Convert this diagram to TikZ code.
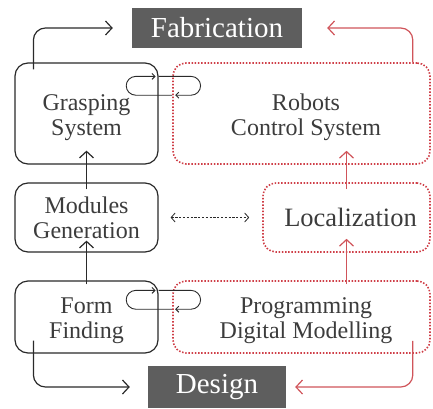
\documentclass[tikz,border=0pt]{standalone}
\usepackage{fontspec}
\setmainfont{Liberation Serif}
\usepackage{xcolor}
\usepackage{tikz}
\usetikzlibrary{arrows.meta}

\definecolor{txtgray}{HTML}{3C3C3C}
\definecolor{linegray}{HTML}{2A2A2A}
\definecolor{boxred}{HTML}{CF3F48}
\definecolor{arrred}{HTML}{D0545A}
\definecolor{tabgray}{HTML}{5E5E5E}

\begin{document}
\begin{tikzpicture}[x=1pt, y=1pt,
    blackbox/.style={draw=linegray, line width=1.2pt, rounded corners=13pt, minimum width=143pt,
        align=center, text=txtgray, inner sep=0pt, font=\fontsize{24}{25}\selectfont},
    redbox/.style={draw=boxred, line width=1.6pt, dash pattern=on 1.5pt off 1.7pt, rounded corners=13pt,
        align=center, text=txtgray, inner sep=0pt, font=\fontsize{24}{25}\selectfont},
    tab/.style={fill=tabgray, text=white, inner sep=0pt, font=\fontsize{29}{30}\selectfont},
    flow/.style={-{Straight Barb[length=6.5pt,width=14pt]}, line width=1.2pt, draw=linegray},
    redflow/.style={flow, draw=arrred},
    swapflow/.style={-{Straight Barb[length=3pt,width=6pt]}, line width=0.9pt, draw=linegray, rounded corners=9.5pt}]
    \useasboundingbox (0,0) rectangle (433,408);

    % Define nodes
    \node[tab, minimum width=170pt, minimum height=40pt] (fab) at (217,380) {Fabrication};
    \node[blackbox, minimum height=101pt] (grasp) at (86.5,294.5) {\rule{0pt}{24pt}Grasping\\System};
    \node[redbox, minimum width=257pt, minimum height=101pt] (robots) at (301.5,294.5)
        {\rule{0pt}{24pt}\hspace*{9pt}Robots\\\hspace*{9pt}Control System};
    \node[blackbox, minimum height=69pt] (modules) at (86.5,190.5) {Modules\\Generation};
    \node[redbox, minimum width=167pt, minimum height=69pt, font=\fontsize{26.5}{28}\selectfont] (local) at (346.5,190.5)
        {\hspace*{8pt}Localization};
    \node[blackbox, minimum height=72pt] (form) at (86.5,91) {\rule{0pt}{24pt}Form\\Finding};
    \node[redbox, minimum width=257pt, minimum height=72pt] (prog) at (301.5,91)
        {\rule{0pt}{24pt}\hspace*{9pt}Programming\\\hspace*{9pt}Digital Modelling};
    \node[tab, minimum width=138pt, minimum height=42pt] (design) at (217,21) {Design};

    % Exchange points
    \coordinate (gA) at ([yshift=-14pt]grasp.north east);
    \coordinate (rA) at ([yshift=-33pt]robots.north west);
    \coordinate (fA) at ([yshift=-10pt]form.north east);
    \coordinate (pA) at ([yshift=-29pt]prog.north west);

    % Draw edges
    \draw[flow, shorten <=-4pt, shorten >=-12pt] (form.north) -- (modules.south);
    \draw[flow, shorten <=-7pt, shorten >=-14pt] (modules.north) -- (grasp.south);
    \draw[redflow, shorten <=-4pt, shorten >=-14pt] (local.south |- prog.north) -- (local.south);
    \draw[redflow, shorten <=-7pt, shorten >=-14pt] (local.north) -- (local.north |- robots.south);
    \draw[{Straight Barb[length=4pt,width=9pt]}-{Straight Barb[length=4pt,width=9pt]}, draw=linegray,
        line width=0.8pt, dash pattern=on 2.2pt off 1.6pt, shorten <=12pt, shorten >=13pt] (modules.east) -- (local.west);

    \draw[flow, rounded corners=12pt, shorten >=19pt] ([shift={(19,-7)}]grasp.north west) |- (fab.west);
    \draw[redflow, rounded corners=12pt, shorten >=25pt] ([xshift=-18pt]robots.north east) |- (fab.east);
    \draw[flow, rounded corners=12pt, shorten >=18pt] ([shift={(19,13)}]form.south west) |- (design.west);
    \draw[redflow, rounded corners=12pt, shorten >=9pt] ([shift={(-18,13)}]prog.south east) |- (design.east);

    % Exchange loops
    \draw[swapflow, shorten >=3pt] (rA) -- ++(-46,0) |- (gA);
    \draw[swapflow, shorten >=3pt] (gA) -- ++(42,0) |- (rA);
    \draw[swapflow, shorten >=3pt] (pA) -- ++(-46,0) |- (fA);
    \draw[swapflow, shorten >=3pt] (fA) -- ++(42,0) |- (pA);
\end{tikzpicture}
\end{document}
